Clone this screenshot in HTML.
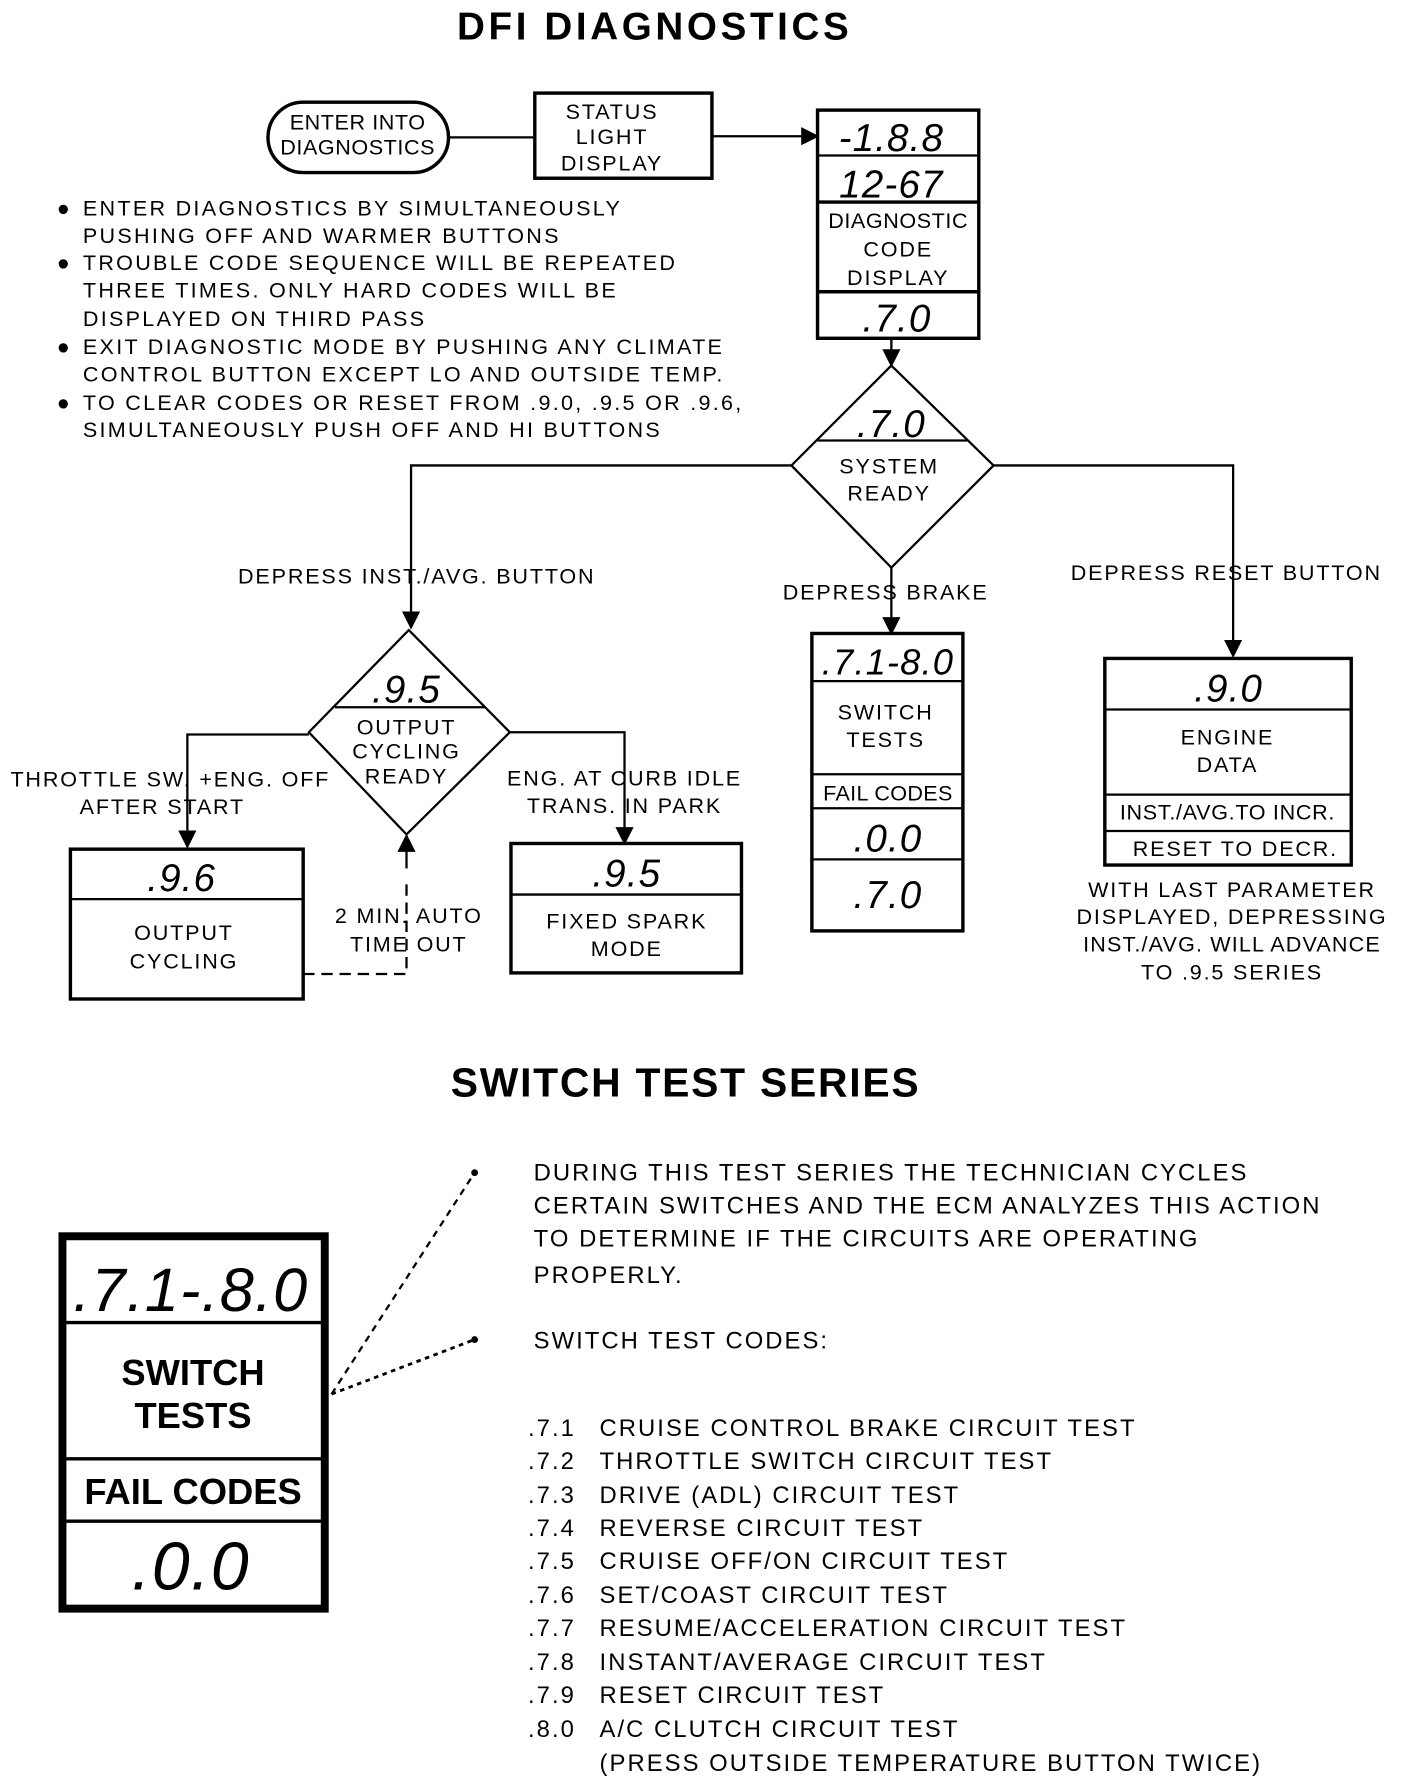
<!DOCTYPE html>
<html><head><meta charset="utf-8"><style>
html,body{margin:0;padding:0;background:#fff}
svg{display:block}
text{font-family:"Liberation Sans",sans-serif;fill:#000}
.t{font-size:19px;letter-spacing:1.6px}
.l{letter-spacing:2px}
.c{text-anchor:middle}
.seg{font-style:italic;font-size:34px;text-anchor:middle;letter-spacing:1px}
</style></head><body>
<svg width="1408" height="1788" viewBox="0 0 1240 1575" preserveAspectRatio="none" xmlns="http://www.w3.org/2000/svg">
<defs>
<marker id="b" viewBox="0 0 10 10" markerWidth="16" markerHeight="16" refX="9" refY="5" orient="auto" markerUnits="userSpaceOnUse"><path d="M0,0 L10,5 L0,10z"/></marker></defs>
<g stroke="#000" fill="none" stroke-width="2">
<text x="575" y="35" class="c" style="font-size:34px;font-weight:bold" stroke="none" textLength="345">DFI DIAGNOSTICS</text>
<rect x="236" y="90" width="159" height="62" rx="31" stroke-width="3"/>
<line x1="395" y1="121" x2="471" y2="121"/>
<rect x="471" y="82" width="156" height="75" stroke-width="3"/>
<line x1="627" y1="120" x2="720" y2="120" marker-end="url(#b)"/>
<rect x="720" y="97" width="142" height="201" stroke-width="3"/>
<line x1="720" y1="137" x2="862" y2="137"/><line x1="720" y1="178" x2="862" y2="178" stroke-width="3"/><line x1="720" y1="257" x2="862" y2="257" stroke-width="3"/>
<line x1="785" y1="298" x2="785" y2="322" marker-end="url(#b)"/>
<polygon points="785,322 875,410 785,500 697,410"/>
<line x1="720" y1="388" x2="852" y2="388"/>
<polyline points="697,410 362,410 362,553" marker-end="url(#b)"/>
<polyline points="875,410 1086,410 1086,578" marker-end="url(#b)"/>
<line x1="785" y1="500" x2="785" y2="558" marker-end="url(#b)"/>
<polygon points="360,555 449,645 358,735 272,645"/>
<line x1="295" y1="623" x2="427" y2="623"/>
<polyline points="272,647 165,647 165,746" marker-end="url(#b)"/>
<polyline points="449,645 550,645 550,743" marker-end="url(#b)"/>
<rect x="62" y="748" width="205" height="132" stroke-width="3"/><line x1="62" y1="792" x2="267" y2="792"/>
<polyline points="267,858 358,858 358,775" stroke-dasharray="10,6"/>
<line x1="358" y1="765" x2="358" y2="736" marker-end="url(#b)"/>
<rect x="450" y="743" width="203" height="114" stroke-width="3"/><line x1="450" y1="788" x2="653" y2="788"/>
<rect x="715" y="558" width="133" height="262" stroke-width="3"/>
<line x1="715" y1="600" x2="848" y2="600"/><line x1="715" y1="682" x2="848" y2="682"/><line x1="715" y1="712" x2="848" y2="712"/><line x1="715" y1="757" x2="848" y2="757"/>
<rect x="973" y="580" width="217" height="182" stroke-width="3"/>
<line x1="973" y1="625" x2="1190" y2="625"/><line x1="973" y1="700" x2="1190" y2="700"/><line x1="973" y1="732" x2="1190" y2="732"/>
<rect x="55" y="1089" width="231" height="328" stroke-width="7"/>
<line x1="55" y1="1165" x2="286" y2="1165" stroke-width="3"/><line x1="55" y1="1285" x2="286" y2="1285" stroke-width="3"/><line x1="55" y1="1340" x2="286" y2="1340" stroke-width="3"/>
<line x1="292" y1="1228" x2="418" y2="1033" stroke-dasharray="6,5"/>
<line x1="292" y1="1228" x2="418" y2="1180" stroke-dasharray="4,4" stroke-width="2.5"/>
<circle cx="418" cy="1033" r="2" fill="#000"/><circle cx="418" cy="1180" r="2" fill="#000"/>
</g>
<text x="315" y="114" class="t c" style="letter-spacing:0.5px">ENTER INTO</text><text x="315" y="136" class="t c" style="letter-spacing:0.5px">DIAGNOSTICS</text>
<text x="539" y="105" class="t c">STATUS</text><text x="539" y="127" class="t c">LIGHT</text><text x="539" y="150" class="t c">DISPLAY</text>
<text x="785" y="133" class="seg">-1.8.8</text><text x="785" y="174" class="seg">12-67</text>
<text x="791" y="201" class="t c" style="letter-spacing:0.5px">DIAGNOSTIC</text><text x="791" y="226" class="t c">CODE</text><text x="791" y="251" class="t c">DISPLAY</text>
<text x="790" y="292" class="seg">.7.0</text>
<g class="t l">
<text x="50" y="190">●</text><text x="73" y="190">ENTER DIAGNOSTICS BY SIMULTANEOUSLY</text>
<text x="73" y="214">PUSHING OFF AND WARMER BUTTONS</text>
<text x="50" y="238">●</text><text x="73" y="238">TROUBLE CODE SEQUENCE WILL BE REPEATED</text>
<text x="73" y="262">THREE TIMES. ONLY HARD CODES WILL BE</text>
<text x="73" y="287">DISPLAYED ON THIRD PASS</text>
<text x="50" y="312">●</text><text x="73" y="312">EXIT DIAGNOSTIC MODE BY PUSHING ANY CLIMATE</text>
<text x="73" y="336">CONTROL BUTTON EXCEPT LO AND OUTSIDE TEMP.</text>
<text x="50" y="361">●</text><text x="73" y="361">TO CLEAR CODES OR RESET FROM .9.0, .9.5 OR .9.6,</text>
<text x="73" y="385">SIMULTANEOUSLY PUSH OFF AND HI BUTTONS</text>
</g>
<text x="785" y="385" class="seg">.7.0</text>
<text x="783" y="417" class="t c">SYSTEM</text><text x="783" y="441" class="t c">READY</text>
<text x="367" y="514" class="t c">DEPRESS INST./AVG. BUTTON</text>
<text x="780" y="528" class="t c">DEPRESS BRAKE</text>
<text x="1080" y="511" class="t c">DEPRESS RESET BUTTON</text>
<text x="358" y="619" class="seg">.9.5</text>
<text x="358" y="647" class="t c">OUTPUT</text><text x="358" y="668" class="t c">CYCLING</text><text x="358" y="690" class="t c">READY</text>
<text x="150" y="693" class="t c">THROTTLE SW. +ENG. OFF</text><text x="143" y="717" class="t c">AFTER START</text>
<text x="550" y="692" class="t c">ENG. AT CURB IDLE</text><text x="550" y="716" class="t c">TRANS. IN PARK</text>
<text x="160" y="785" class="seg">.9.6</text>
<text x="162" y="828" class="t c">OUTPUT</text><text x="162" y="853" class="t c">CYCLING</text>
<text x="360" y="813" class="t c">2 MIN. AUTO</text><text x="360" y="838" class="t c">TIME OUT</text>
<text x="552" y="781" class="seg">.9.5</text>
<text x="552" y="818" class="t c">FIXED SPARK</text><text x="552" y="842" class="t c">MODE</text>
<text x="782" y="594" class="seg" style="font-size:32px">.7.1-8.0</text>
<text x="780" y="634" class="t c">SWITCH</text><text x="780" y="658" class="t c">TESTS</text>
<text x="782" y="705" class="t c" style="letter-spacing:0.3px">FAIL CODES</text>
<text x="782" y="750" class="seg">.0.0</text><text x="782" y="800" class="seg">.7.0</text>
<text x="1082" y="618" class="seg">.9.0</text>
<text x="1081" y="656" class="t c">ENGINE</text><text x="1081" y="680" class="t c">DATA</text>
<text x="1081" y="722" class="t c" style="letter-spacing:0.6px">INST./AVG.TO INCR.</text><text x="1088" y="754" class="t c">RESET TO DECR.</text>
<text x="1085" y="790" class="t c">WITH LAST PARAMETER</text><text x="1085" y="814" class="t c">DISPLAYED, DEPRESSING</text>
<text x="1085" y="838" class="t c" style="letter-spacing:1px">INST./AVG. WILL ADVANCE</text><text x="1085" y="863" class="t c">TO .9.5 SERIES</text>
<text x="603" y="966" class="c" style="font-size:36px;font-weight:bold" textLength="412">SWITCH TEST SERIES</text>
<text x="168" y="1155" class="seg" style="font-size:54px">.7.1-.8.0</text>
<text x="170" y="1220" class="c" style="font-size:32px;font-weight:bold">SWITCH</text>
<text x="170" y="1258" class="c" style="font-size:32px;font-weight:bold">TESTS</text>
<text x="170" y="1325" class="c" style="font-size:32px;font-weight:bold">FAIL CODES</text>
<text x="168" y="1400" class="seg" style="font-size:60px">.0.0</text>
<g style="font-size:21px;letter-spacing:1.8px">
<text x="470" y="1040">DURING THIS TEST SERIES THE TECHNICIAN CYCLES</text>
<text x="470" y="1069">CERTAIN SWITCHES AND THE ECM ANALYZES THIS ACTION</text>
<text x="470" y="1098">TO DETERMINE IF THE CIRCUITS ARE OPERATING</text>
<text x="470" y="1130">PROPERLY.</text>
<text x="470" y="1188">SWITCH TEST CODES:</text>
<text x="465" y="1265">.7.1</text><text x="528" y="1265">CRUISE CONTROL BRAKE CIRCUIT TEST</text>
<text x="465" y="1294">.7.2</text><text x="528" y="1294">THROTTLE SWITCH CIRCUIT TEST</text>
<text x="465" y="1324">.7.3</text><text x="528" y="1324">DRIVE (ADL) CIRCUIT TEST</text>
<text x="465" y="1353">.7.4</text><text x="528" y="1353">REVERSE CIRCUIT TEST</text>
<text x="465" y="1382">.7.5</text><text x="528" y="1382">CRUISE OFF/ON CIRCUIT TEST</text>
<text x="465" y="1412">.7.6</text><text x="528" y="1412">SET/COAST CIRCUIT TEST</text>
<text x="465" y="1441">.7.7</text><text x="528" y="1441">RESUME/ACCELERATION CIRCUIT TEST</text>
<text x="465" y="1471">.7.8</text><text x="528" y="1471">INSTANT/AVERAGE CIRCUIT TEST</text>
<text x="465" y="1500">.7.9</text><text x="528" y="1500">RESET CIRCUIT TEST</text>
<text x="465" y="1530">.8.0</text><text x="528" y="1530">A/C CLUTCH CIRCUIT TEST</text>
<text x="528" y="1560">(PRESS OUTSIDE TEMPERATURE BUTTON TWICE)</text>
</g>
</svg>
</body></html>
